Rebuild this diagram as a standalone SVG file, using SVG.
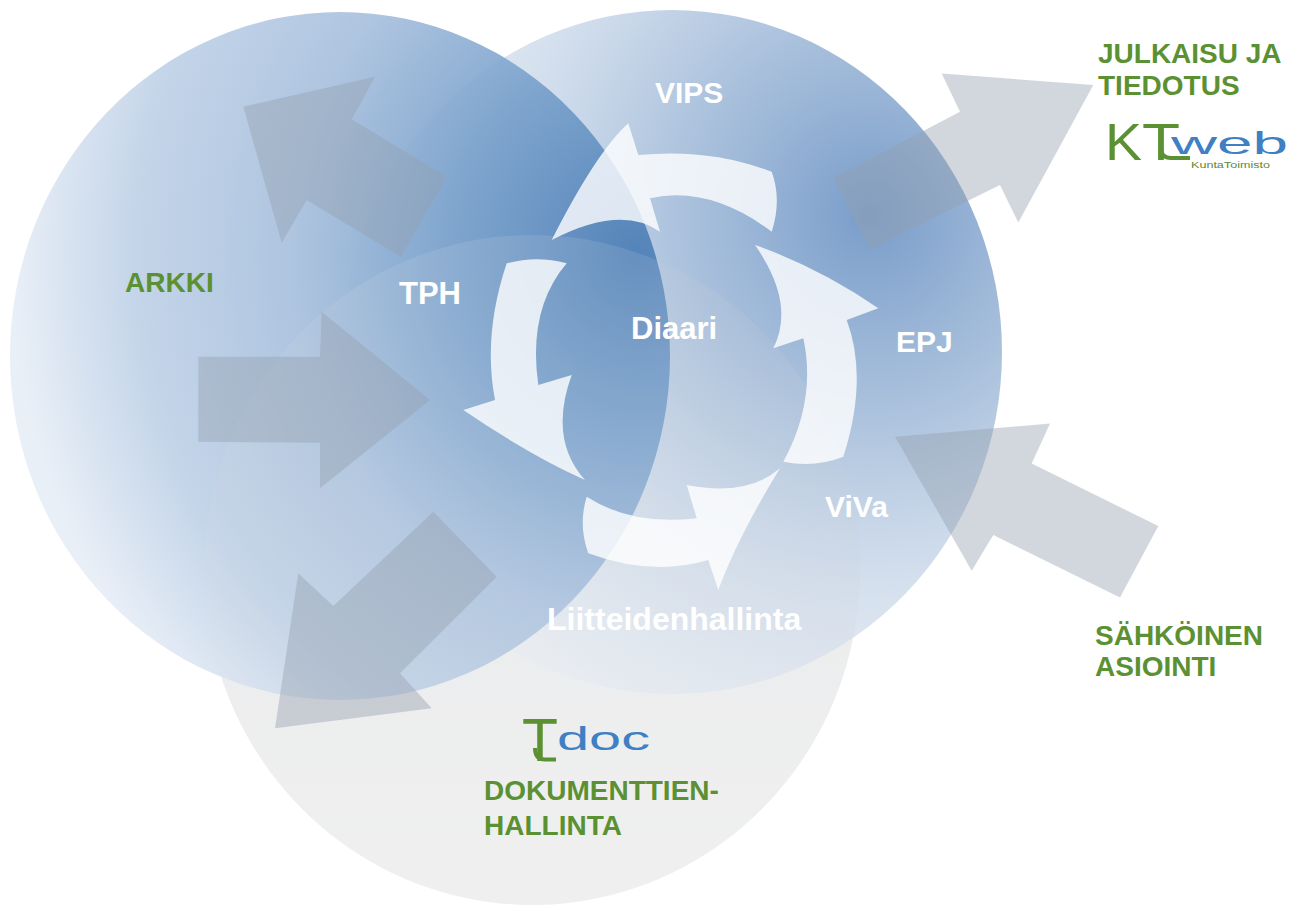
<svg xmlns="http://www.w3.org/2000/svg" width="1301" height="905" viewBox="0 0 1301 905">
  <defs>
    <radialGradient id="gLeft" cx="0.95" cy="0.35" r="0.95" fx="0.95" fy="0.35">
      <stop offset="0" stop-color="#4f80b7" stop-opacity="0.95"/>
      <stop offset="0.3" stop-color="#78a0cb" stop-opacity="0.92"/>
      <stop offset="0.55" stop-color="#a5bedc" stop-opacity="0.9"/>
      <stop offset="0.8" stop-color="#bccfe6" stop-opacity="0.88"/>
      <stop offset="1" stop-color="#e6edf6" stop-opacity="0.88"/>
    </radialGradient>
    <radialGradient id="gRight" cx="0.8" cy="0.3" r="0.9" fx="0.8" fy="0.3">
      <stop offset="0" stop-color="#6a92c4" stop-opacity="0.9"/>
      <stop offset="0.35" stop-color="#a2bbd9" stop-opacity="0.85"/>
      <stop offset="0.6" stop-color="#c6d5e8" stop-opacity="0.75"/>
      <stop offset="1" stop-color="#eef2f7" stop-opacity="0.6"/>
    </radialGradient>
    <linearGradient id="gGray" x1="0" y1="0" x2="0" y2="1">
      <stop offset="0" stop-color="#e6e8ea"/>
      <stop offset="1" stop-color="#f0f0f0"/>
    </linearGradient>
    <style>
      .big { fill: #949fad; fill-opacity: 0.42; }
      .cyc { fill: #ffffff; fill-opacity: 0.8; }
      .wl { font-family: "Liberation Sans", Arial, sans-serif; font-weight: bold; fill: #ffffff; }
      .gl { font-family: "Liberation Sans", Arial, sans-serif; font-weight: bold; fill: #5b9132; font-size: 28px; }
      .logoG { font-family: "Liberation Sans", Arial, sans-serif; font-weight: normal; fill: #5b9132; }
      .logoB { font-family: "Liberation Sans", Arial, sans-serif; font-weight: normal; fill: #3f7fc3; }
      .hook { fill: none; stroke: #5b9132; stroke-width: 4; stroke-linecap: butt; }
    </style>
  </defs>

  <rect x="0" y="0" width="1301" height="905" fill="#ffffff"/>

  <g id="circles">
    <ellipse id="circle-doc" cx="532" cy="570" rx="328" ry="335" fill="url(#gGray)"/>
    <ellipse id="circle-right" cx="672" cy="352" rx="330" ry="342" fill="url(#gRight)"/>
    <ellipse id="circle-left" cx="340" cy="356" rx="330" ry="344" fill="url(#gLeft)"/>
    <ellipse cx="532" cy="570" rx="328" ry="335" fill="#eeeeee" fill-opacity="0.12"/>
  </g>

  <g id="connectors">
    <polygon class="big" points="243.3,106.7 375,76.7 351.7,119.3 446.7,176.7 400.7,256.7 306.7,200 281.7,242.7"/>
    <polygon class="big" points="198.3,356.7 320,356.7 321.7,311.7 430,400 320,488.3 320,442.7 198.3,441.7"/>
    <polygon class="big" points="275,728.3 298.3,573.3 333.3,606 433.3,511.7 496.7,576.7 400,673.3 431.7,708.3"/>
    <polygon class="big" points="833.3,177.9 960,111.8 941.7,73.6 1093.3,85 1018.3,222.5 1000,185 870,249.3"/>
    <polygon class="big" points="895,436.8 1050,423.6 1031.7,463.6 1158.3,526 1120,597.5 993.3,535 971.7,570.7"/>

    <path class="cyc" d="M771.7,171.7 Q710,148 638.3,155 L628.3,123.3 Q596.6,151.7 551.7,240 Q620.8,204.2 660,231.7 L650,198.3 Q709.2,185 771.7,231.7 Q782,200 771.7,171.7 Z"/>
    <path class="cyc" d="M843.3,456.7 Q868.4,378.3 846.7,320 L878.3,308.3 Q820,268 755,245 Q795.9,303.4 773.3,348.3 L803.3,338.3 Q816.7,400 783.3,461.7 Q815,468 843.3,456.7 Z"/>
    <path class="cyc" d="M586.7,496.7 Q631.7,525.9 696.7,518.3 L686.7,485 Q746.7,496.8 780,468.3 Q737.5,537.5 718.3,590 L708.3,560 Q651.7,576.8 588.3,553.3 Q578,525 586.7,496.7 Z"/>
    <path class="cyc" d="M566.7,263.3 Q536.7,255 506.7,263.3 Q482.6,335 495,400 L463.3,410 Q529.3,455 585,480 Q548.3,439.1 571.7,375 L538.3,385 Q527.5,309.3 566.7,263.3 Z"/>
  </g>

  <g id="node-vips"><text class="wl" x="655" y="103" font-size="30">VIPS</text></g>
  <g id="node-tph"><text class="wl" x="399" y="304" font-size="31">TPH</text></g>
  <g id="node-diaari"><text class="wl" x="631" y="339" font-size="31">Diaari</text></g>
  <g id="node-epj"><text class="wl" x="896" y="352" font-size="30">EPJ</text></g>
  <g id="node-viva"><text class="wl" x="825" y="517" font-size="30">ViVa</text></g>
  <g id="node-liitteet"><text class="wl" x="547" y="630" font-size="32">Liitteidenhallinta</text></g>

  <g id="node-arkki"><text class="gl" x="125" y="292">ARKKI</text></g>

  <g id="node-julkaisu">
    <text class="gl" x="1098" y="63">JULKAISU JA</text>
    <text class="gl" x="1098" y="95">TIEDOTUS</text>
    <text class="logoG" x="1105" y="160" font-size="52" textLength="37" lengthAdjust="spacingAndGlyphs">K</text>
    <text class="logoG" x="1142" y="160" font-size="52" textLength="38" lengthAdjust="spacingAndGlyphs">T</text>
    <path class="hook" d="M1161,148 Q1161,158 1171,158 L1190,158"/>
    <text class="logoB" x="1171" y="154" font-size="32" textLength="117" lengthAdjust="spacingAndGlyphs">web</text>
    <text x="1191" y="168" font-family="Liberation Sans, Arial, sans-serif" font-size="8.5" fill="#5b8a35" textLength="79" lengthAdjust="spacingAndGlyphs">KuntaToimisto</text>
  </g>

  <g id="node-sahkoinen">
    <text class="gl" x="1095" y="645">SÄHKÖINEN</text>
    <text class="gl" x="1095" y="676">ASIOINTI</text>
  </g>

  <g id="node-dokumentti">
    <text class="logoG" x="522" y="761" font-size="62" textLength="36" lengthAdjust="spacingAndGlyphs">T</text>
    <path class="hook" d="M535,748 Q535,759.5 545,759.5 L556,759.5"/>
    <text class="logoB" x="557" y="750" font-size="34" textLength="93" lengthAdjust="spacingAndGlyphs">doc</text>
    <text class="gl" x="484" y="800">DOKUMENTTIEN-</text>
    <text class="gl" x="484" y="835">HALLINTA</text>
  </g>
</svg>
